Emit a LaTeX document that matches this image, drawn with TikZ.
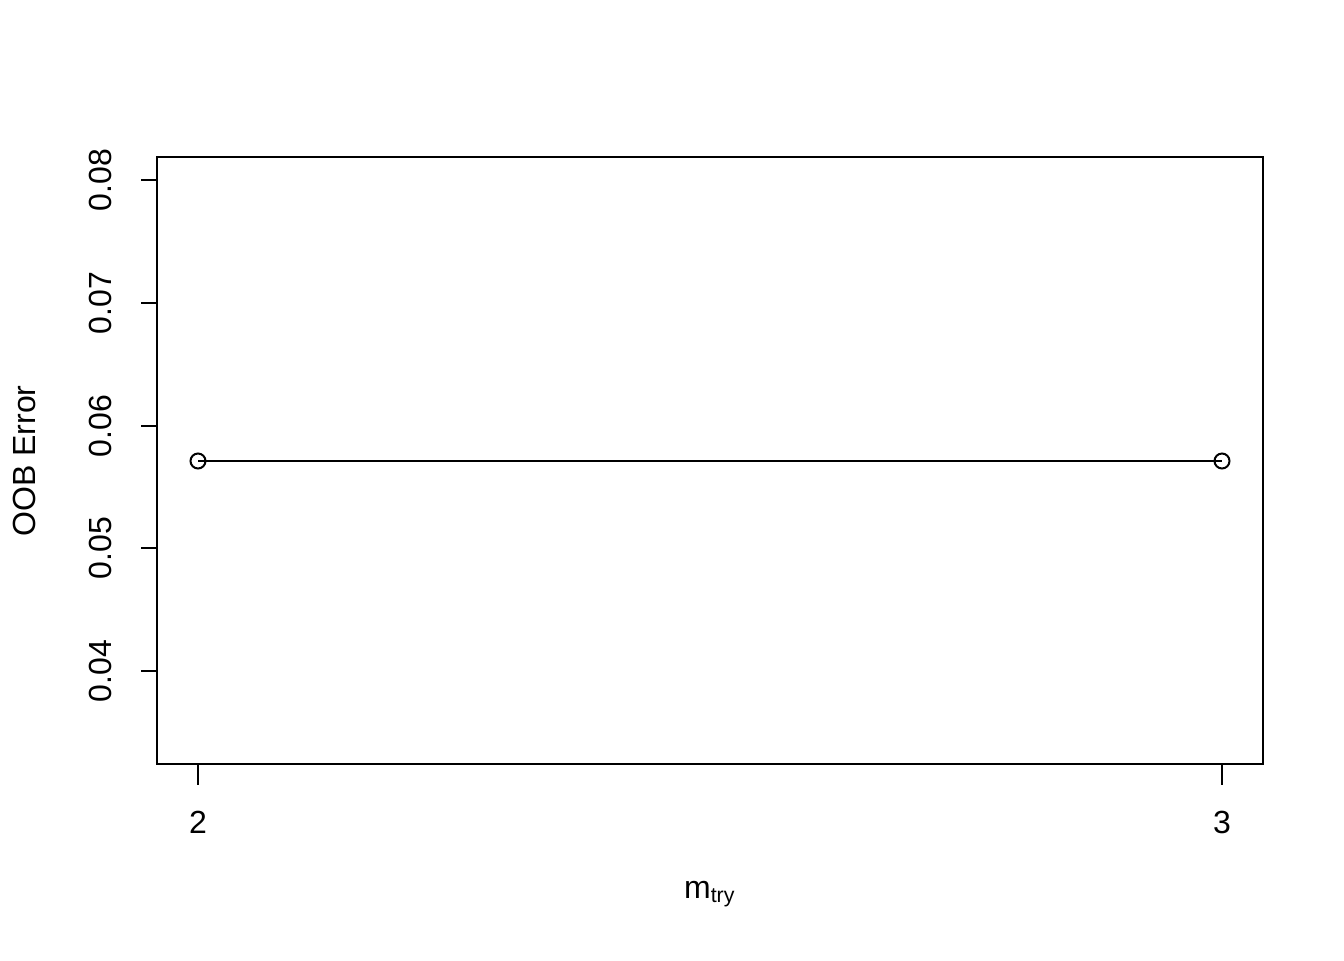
\documentclass[tikz,border=0pt]{standalone}
\usepackage{fontspec}
\setmainfont{Liberation Sans}
\begin{document}
\begin{tikzpicture}[x=0.375pt,y=-0.375pt,
  axisline/.style={line width=0.75pt,line cap=rect},
  ticklabel/.style={font=\fontsize{12}{14}\selectfont,inner sep=0pt},
  pt/.style={circle,draw,line width=0.75pt,minimum size=15*0.375pt,inner sep=0pt}]
\useasboundingbox (0,0) rectangle (1344,960);
% box
\draw[axisline] (157,157) rectangle (1263,764);
% y axis
\foreach \v/\y in {0.04/671,0.05/548,0.06/426,0.07/303,0.08/180}{
  \draw[axisline] (157,\y) -- (142,\y);
  \node[ticklabel,rotate=90] at (100,\y) {\v};
}
\draw[axisline] (157,180) -- (157,671);
% x axis
\foreach \v/\x in {2/198,3/1222}{
  \draw[axisline] (\x,764) -- (\x,784);
  \node[ticklabel] at (\x,822) {\v};
}
% data
\node[pt] (p1) at (198,461) {};
\node[pt] (p2) at (1222,461) {};
\draw[line width=0.75pt] (p1.center) -- (p2.center);
% labels
\node[ticklabel] (xl) at (710,894) {m$_{\mathrm{\fontsize{9.5}{10}\selectfont try}}$};
\node[ticklabel,rotate=90] (yl) at (24,461) {OOB Error};
\end{tikzpicture}
\end{document}
